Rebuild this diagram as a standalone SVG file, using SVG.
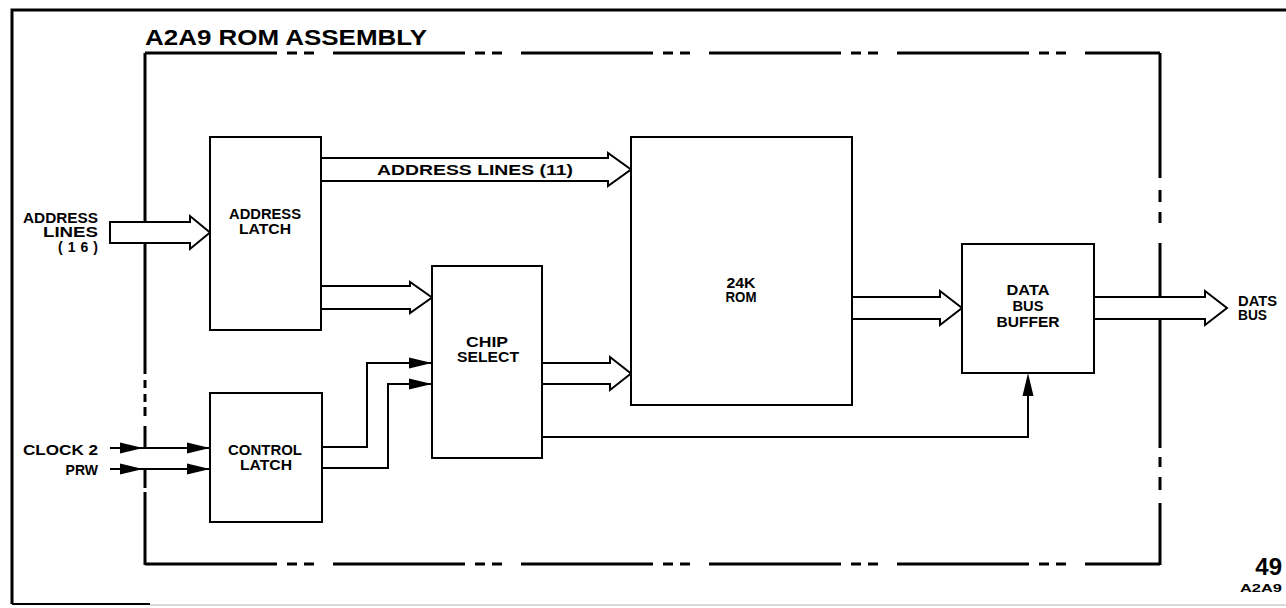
<svg xmlns="http://www.w3.org/2000/svg" width="1286" height="608" viewBox="0 0 1286 608">
<style>
  .frame{fill:none;stroke:#000;stroke-width:3}
  .asm{fill:none;stroke:#000;stroke-width:3}
  .box{fill:#fff;stroke:#000;stroke-width:2}
  .fat{fill:#fff;stroke:#000;stroke-width:2;stroke-linejoin:miter}
  .wire{fill:none;stroke:#000;stroke-width:2}
  .t{font-family:"Liberation Sans",Arial,sans-serif;font-weight:bold;font-size:14px;fill:#000}
  .mid{text-anchor:middle}
  .end{text-anchor:end}
</style>
<defs>
  <path id="ah" d="M0,0 L-23,-5.5 L-23,5.5 Z" fill="#000"/>
</defs>
<rect width="1286" height="608" fill="#fff"/>

<!-- outer frame -->
<g id="frame">
  <path class="frame" d="M12,604 V10 H1286"/>
  <line x1="12" y1="604" x2="150" y2="604" stroke="#000" stroke-width="2"/>
  <line x1="150" y1="605" x2="1286" y2="605" stroke="#ccc" stroke-width="1.5"/>
</g>

<!-- assembly boundary -->
<g id="assembly">
  <path class="asm" d="M145,53 H1160" stroke-dasharray="132 10 10 7 10 19"/>
  <path class="asm" d="M145,564 H1160" stroke-dasharray="132 10 10 7 10 19"/>
  <path class="asm" d="M145,53 V374 M145,380 V388 M145,394 V402 M145,407 V416 M145,426 V448 M145,470 V488 M145,492 V565"/>
  <path class="asm" d="M1160,53 V178 M1160,190 V202 M1160,212 V223 M1160,243 V448 M1160,457 V467 M1160,477 V490 M1160,503 V565"/>
  <text class="t" x="145" y="45" textLength="282" lengthAdjust="spacingAndGlyphs" style="font-size:22px">A2A9 ROM ASSEMBLY</text>
</g>

<!-- connectors -->
<g id="connectors">
  <polygon class="fat" points="110,222 190,222 190,216 210,232.5 190,249 190,243 110,243"/>
  <polygon class="fat" points="321,158 608,158 608,153 631,169.5 608,186 608,181 321,181"/>
  <polygon class="fat" points="321,286 410,286 410,282 432,297.5 410,313 410,309 321,309"/>
  <polygon class="fat" points="542,363 610,363 610,357 631,373.5 610,390 610,384 542,384"/>
  <polygon class="fat" points="852,297 940,297 940,291 962,308 940,325 940,319 852,319"/>
  <polygon class="fat" points="1094,297 1205,297 1205,291 1227,308 1205,325 1205,319 1094,319"/>
  <text class="t" x="377" y="175" textLength="196" lengthAdjust="spacingAndGlyphs">ADDRESS LINES (11)</text>

  <line class="wire" x1="110" y1="448" x2="210" y2="448"/>
  <line class="wire" x1="110" y1="469" x2="210" y2="469"/>
  <use href="#ah" transform="translate(143,448)"/>
  <use href="#ah" transform="translate(210,448)"/>
  <use href="#ah" transform="translate(143,469)"/>
  <use href="#ah" transform="translate(210,469)"/>

  <path class="wire" d="M322,447 H367 V363 H432"/>
  <path class="wire" d="M322,468 H388 V384 H432"/>
  <use href="#ah" transform="translate(432,363)"/>
  <use href="#ah" transform="translate(432,384)"/>

  <path class="wire" d="M542,437 H1028 V380"/>
  <use href="#ah" transform="translate(1028,373) rotate(-90)"/>
</g>

<!-- input / output labels -->
<g id="labels">
  <text class="t end" x="98" y="223" textLength="75" lengthAdjust="spacingAndGlyphs">ADDRESS</text>
  <text class="t end" x="98" y="237" textLength="55" lengthAdjust="spacingAndGlyphs">LINES</text>
  <text class="t end" x="98" y="252" textLength="40" lengthAdjust="spacing">(16)</text>
  <text class="t" x="23" y="455" textLength="75" lengthAdjust="spacingAndGlyphs">CLOCK 2</text>
  <text class="t end" x="98" y="475">PRW</text>
  <text class="t" x="1238" y="306" textLength="39" lengthAdjust="spacingAndGlyphs">DATS</text>
  <text class="t" x="1238" y="320" textLength="29" lengthAdjust="spacingAndGlyphs">BUS</text>
  <text class="t end" x="1282" y="575" style="font-size:24px">49</text>
  <text class="t end" x="1282" y="592" style="font-size:10px" textLength="42" lengthAdjust="spacingAndGlyphs">A2A9</text>
</g>

<g id="address-latch">
  <rect class="box" x="210" y="137" width="111" height="193"/>
  <text class="t mid" x="265" y="219" textLength="72" lengthAdjust="spacingAndGlyphs">ADDRESS</text>
  <text class="t mid" x="265" y="234" textLength="52" lengthAdjust="spacingAndGlyphs">LATCH</text>
</g>

<g id="control-latch">
  <rect class="box" x="210" y="393" width="112" height="129"/>
  <text class="t mid" x="265" y="455" textLength="74" lengthAdjust="spacingAndGlyphs">CONTROL</text>
  <text class="t mid" x="266" y="470" textLength="52" lengthAdjust="spacingAndGlyphs">LATCH</text>
</g>

<g id="chip-select">
  <rect class="box" x="432" y="266" width="110" height="192"/>
  <text class="t mid" x="487" y="347" textLength="42" lengthAdjust="spacingAndGlyphs">CHIP</text>
  <text class="t mid" x="488" y="362" textLength="62" lengthAdjust="spacingAndGlyphs">SELECT</text>
</g>

<g id="rom">
  <rect class="box" x="631" y="137" width="221" height="268"/>
  <text class="t mid" x="741" y="288" textLength="29" lengthAdjust="spacingAndGlyphs">24K</text>
  <text class="t mid" x="741" y="302" textLength="31" lengthAdjust="spacingAndGlyphs">ROM</text>
</g>

<g id="data-bus-buffer">
  <rect class="box" x="962" y="244" width="132" height="129"/>
  <text class="t mid" x="1028" y="295" textLength="43" lengthAdjust="spacingAndGlyphs">DATA</text>
  <text class="t mid" x="1028" y="311" textLength="31" lengthAdjust="spacingAndGlyphs">BUS</text>
  <text class="t mid" x="1028" y="327" textLength="63" lengthAdjust="spacingAndGlyphs">BUFFER</text>
</g>
</svg>
